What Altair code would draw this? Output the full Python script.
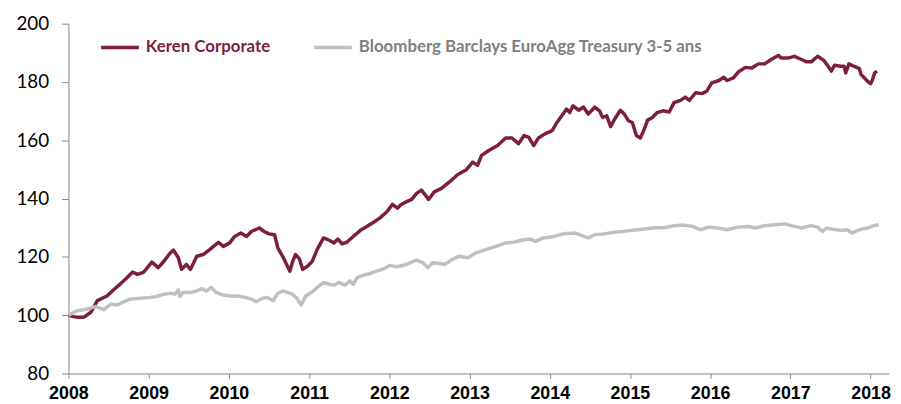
import altair as alt
import pandas as pd

keren_t = [2008.00, 2008.06, 2008.12, 2008.20, 2008.28, 2008.36, 2008.48, 2008.57, 2008.63, 2008.71,
           2008.80, 2008.86, 2008.94, 2009.04, 2009.12, 2009.19, 2009.27, 2009.31, 2009.37, 2009.41,
           2009.47, 2009.52, 2009.60, 2009.68, 2009.76, 2009.87, 2009.93, 2010.01, 2010.07, 2010.15,
           2010.22, 2010.28, 2010.38, 2010.44, 2010.50, 2010.57, 2010.61, 2010.67, 2010.71, 2010.76,
           2010.79, 2010.83, 2010.88, 2010.92, 2010.98, 2011.04, 2011.10, 2011.18, 2011.25, 2011.31,
           2011.36, 2011.41, 2011.47, 2011.55, 2011.64, 2011.72, 2011.80, 2011.88, 2011.97, 2012.04,
           2012.10, 2012.14, 2012.19, 2012.28, 2012.34, 2012.40, 2012.44, 2012.49, 2012.56, 2012.65,
           2012.75, 2012.85, 2012.96, 2013.04, 2013.10, 2013.15, 2013.24, 2013.35, 2013.45, 2013.53,
           2013.61, 2013.68, 2013.74, 2013.80, 2013.86, 2013.94, 2014.03, 2014.09, 2014.15, 2014.21,
           2014.25, 2014.29, 2014.36, 2014.42, 2014.48, 2014.52, 2014.56, 2014.62, 2014.66, 2014.71,
           2014.76, 2014.81, 2014.88, 2014.93, 2014.98, 2015.03, 2015.08, 2015.13, 2015.18, 2015.22,
           2015.28, 2015.34, 2015.41, 2015.49, 2015.55, 2015.63, 2015.69, 2015.74, 2015.82, 2015.90,
           2015.96, 2016.02, 2016.11, 2016.17, 2016.21, 2016.29, 2016.35, 2016.44, 2016.52, 2016.60,
           2016.68, 2016.76, 2016.85, 2016.89, 2016.97, 2017.05, 2017.14, 2017.20, 2017.26, 2017.34,
           2017.42, 2017.47, 2017.51, 2017.55, 2017.63, 2017.67, 2017.69, 2017.73, 2017.79, 2017.86,
           2017.88, 2017.93, 2017.96, 2018.00, 2018.02, 2018.05, 2018.08]
keren_v = [100.0, 99.5, 99.3, 99.4, 101.0, 105.0, 106.6, 108.9, 110.3, 112.3,
           114.8, 114.0, 114.8, 118.2, 116.3, 118.5, 121.4, 122.3, 119.7, 115.7,
           117.4, 115.7, 120.2, 120.8, 122.5, 125.0, 123.6, 124.8, 127.0, 128.2,
           127.0, 128.7, 129.9, 128.7, 127.9, 127.6, 123.1, 120.2, 118.0, 115.1,
           118.0, 120.8, 119.3, 115.7, 116.8, 118.5, 122.5, 126.5, 125.7, 124.8,
           126.1, 124.5, 125.0, 127.0, 129.1, 130.4, 131.8, 133.3, 135.5, 138.0,
           136.7, 137.8, 138.6, 139.7, 141.8, 142.9, 141.5, 139.7, 142.3, 143.5,
           145.7, 148.2, 149.9, 152.5, 151.4, 154.8, 156.5, 158.2, 160.8, 160.8,
           158.8, 161.6, 161.0, 158.2, 160.8, 162.2, 163.3, 166.1, 168.4, 170.7,
           169.5, 171.8, 170.3, 171.4, 169.0, 170.1, 171.4, 170.1, 167.8, 168.4,
           164.7, 167.3, 170.3, 169.0, 166.7, 166.1, 161.6, 160.8, 163.9, 166.9,
           167.8, 169.5, 170.1, 169.7, 172.9, 173.7, 174.8, 173.7, 176.3, 176.0,
           176.9, 179.7, 180.5, 181.6, 180.5, 181.4, 183.4, 185.0, 184.8, 186.2,
           186.2, 187.7, 189.1, 188.2, 188.2, 188.8, 187.7, 186.9, 186.9, 188.8,
           187.3, 185.4, 183.7, 185.7, 185.4, 185.4, 183.1, 186.2, 185.4, 184.6,
           182.6, 181.2, 180.3, 179.4, 180.5, 183.1, 183.7]

bench_t = [2008.00, 2008.11, 2008.24, 2008.34, 2008.40, 2008.44, 2008.53, 2008.61, 2008.69, 2008.77,
           2008.90, 2009.02, 2009.10, 2009.19, 2009.27, 2009.33, 2009.37, 2009.39, 2009.43, 2009.52,
           2009.60, 2009.66, 2009.72, 2009.78, 2009.84, 2009.93, 2010.01, 2010.11, 2010.20, 2010.28,
           2010.34, 2010.42, 2010.48, 2010.55, 2010.61, 2010.67, 2010.73, 2010.79, 2010.85, 2010.90,
           2010.96, 2011.04, 2011.10, 2011.18, 2011.25, 2011.31, 2011.37, 2011.45, 2011.51, 2011.55,
           2011.60, 2011.68, 2011.76, 2011.84, 2011.93, 2012.01, 2012.09, 2012.21, 2012.34, 2012.42,
           2012.48, 2012.54, 2012.63, 2012.69, 2012.77, 2012.87, 2012.98, 2013.08, 2013.20, 2013.33,
           2013.45, 2013.55, 2013.65, 2013.76, 2013.82, 2013.92, 2014.05, 2014.17, 2014.31, 2014.40,
           2014.48, 2014.56, 2014.66, 2014.79, 2014.91, 2015.03, 2015.16, 2015.28, 2015.43, 2015.55,
           2015.67, 2015.79, 2015.88, 2015.98, 2016.09, 2016.21, 2016.35, 2016.48, 2016.56, 2016.68,
           2016.81, 2016.93, 2017.01, 2017.14, 2017.26, 2017.34, 2017.40, 2017.45, 2017.53, 2017.63,
           2017.71, 2017.77, 2017.86, 2017.96, 2018.04, 2018.10]
bench_v = [100.0, 101.5, 102.1, 103.0, 102.3, 101.9, 103.8, 103.5, 104.6, 105.5,
           105.8, 106.1, 106.4, 107.2, 107.5, 107.2, 108.7, 106.4, 107.8, 107.8,
           108.3, 109.1, 108.3, 109.5, 107.8, 106.9, 106.6, 106.6, 106.1, 105.5,
           104.6, 105.8, 106.1, 104.9, 107.5, 108.3, 107.8, 107.2, 105.8, 103.5,
           106.6, 108.0, 109.5, 111.2, 110.6, 110.3, 111.2, 110.3, 111.8, 110.6,
           112.9, 113.7, 114.3, 115.1, 115.9, 117.1, 116.6, 117.4, 118.9, 118.0,
           116.3, 118.0, 117.7, 117.4, 118.9, 120.2, 119.7, 121.4, 122.5, 123.6,
           124.8, 125.0, 125.7, 126.1, 125.3, 126.5, 127.0, 127.9, 128.2, 127.3,
           126.5, 127.6, 127.8, 128.4, 128.7, 129.1, 129.5, 129.9, 130.1, 130.7,
           130.9, 130.4, 129.3, 130.2, 129.9, 129.3, 130.2, 130.4, 129.9, 130.7,
           131.0, 131.3, 130.7, 129.9, 130.7, 130.2, 128.7, 129.9, 129.5, 129.1,
           129.3, 128.2, 129.3, 129.9, 130.7, 131.0]

series_names = ["Keren Corporate", "Bloomberg Barclays EuroAgg Treasury 3-5 ans"]
series_colors = ["#7B1E41", "#C0C0C0"]
year_ticks = list(range(2008, 2019))
value_ticks = [80, 100, 120, 140, 160, 180, 200]

df_k = pd.DataFrame({"t": keren_t, "v": keren_v, "series": series_names[0]})
df_b = pd.DataFrame({"t": bench_t, "v": bench_v, "series": series_names[1]})

x_enc = alt.X("t:Q", scale=alt.Scale(domain=[2008, 2018.23], nice=False, zero=False),
              axis=alt.Axis(values=year_ticks, format="d", title=None, grid=False,
                            labelFont="Liberation Sans", labelFontWeight="bold", labelFontSize=18,
                            labelColor="#000000", labelPadding=6, tickSize=5, tickColor="#898989",
                            domainColor="#898989", labelOverlap=False, labelFlush=False))
y_enc = alt.Y("v:Q", scale=alt.Scale(domain=[80, 200], nice=False, zero=False),
              axis=alt.Axis(values=value_ticks, title=None, grid=False,
                            labelFont="Lato", labelFontSize=19, labelColor="#000000",
                            labelPadding=13, tickSize=7, tickColor="#898989",
                            domainColor="#898989"))
color_enc = alt.Color("series:N",
                      scale=alt.Scale(domain=series_names, range=series_colors),
                      legend=alt.Legend(orient="none", legendX=31, legendY=3, direction="horizontal",
                                        title=None, symbolType="stroke", symbolSize=1444,
                                        symbolStrokeWidth=3.5, labelFont="Lato", labelFontSize=17,
                                        labelFontWeight="bold",
                                        labelColor={"expr": "datum.value == 'Keren Corporate' ? '#7B1E41' : '#808080'"},
                                        columnPadding=37, labelOffset=5, padding=0, labelLimit=600))

keren_line = alt.Chart(df_k).mark_line(strokeWidth=3.5, strokeJoin="round").encode(
    x=x_enc, y=y_enc, color=color_enc)
bench_line = alt.Chart(df_b).mark_line(strokeWidth=3.5, strokeJoin="round").encode(
    x=x_enc, y=y_enc, color=color_enc)

chart = alt.layer(keren_line, bench_line).properties(
    width=828, height=353,
    padding={"left": 61, "top": 14, "right": 4, "bottom": 29},
    autosize=alt.AutoSizeParams(type="none"),
    background="white",
).configure_view(stroke=None)

chart.save("out.html", embed_options={"renderer": "svg", "actions": False})
